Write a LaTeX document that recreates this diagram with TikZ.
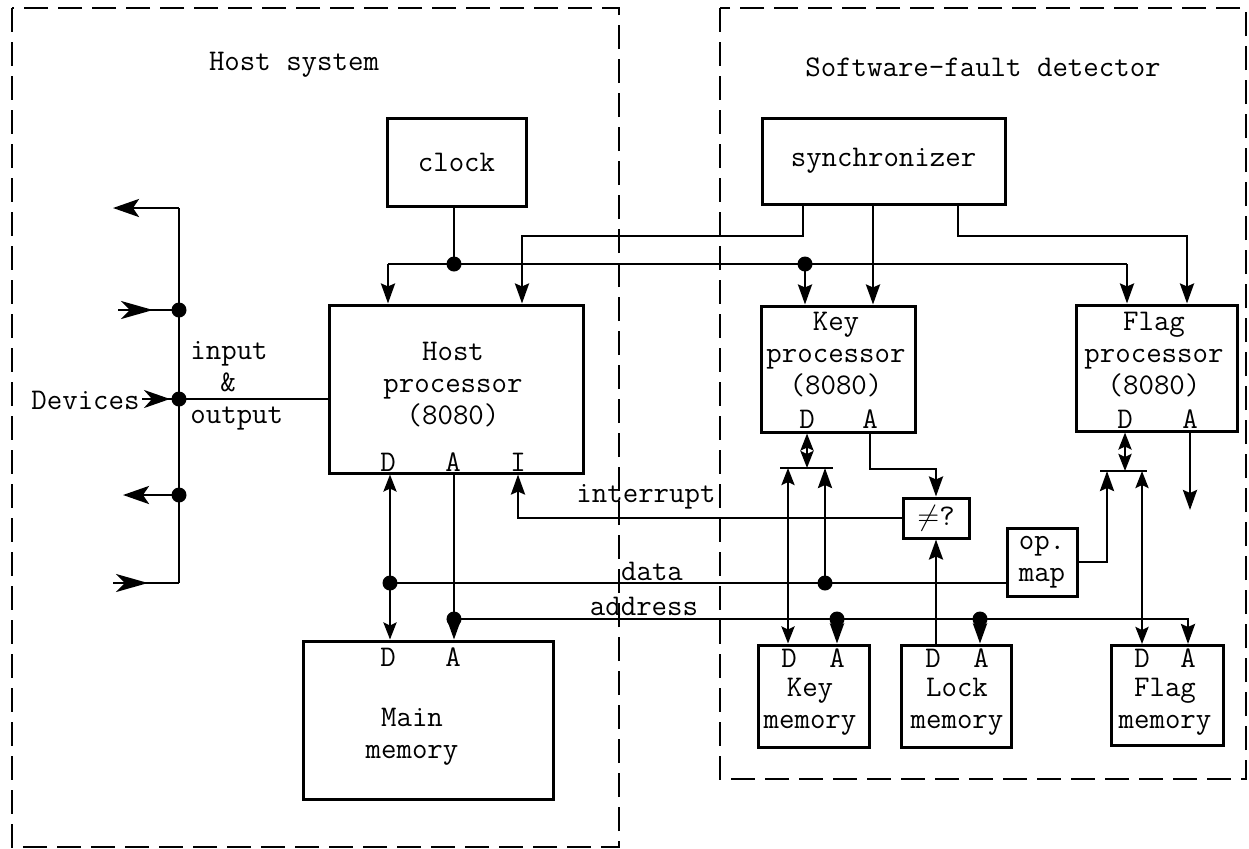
\documentclass[tikz,border=0pt]{standalone}
\usetikzlibrary{arrows.meta,calc}
\tikzset{
  box/.style={draw, line width=1.5pt},
  lbl/.style={align=center},
  wire/.style={line width=1.4pt},
  arr/.style={wire,-{Stealth[length=10pt,width=7pt,inset=1.5pt]}},
  darr/.style={wire,{Stealth[length=8.5pt,width=6.5pt,inset=1.5pt]}-{Stealth[length=8.5pt,width=6.5pt,inset=1.5pt]}},
  devin/.style={wire,-{Stealth[length=16pt,width=9pt,inset=4.5pt]}},
  devinshort/.style={wire,-{Stealth[length=13pt,width=9pt,inset=4pt]}},
  devout/.style={wire,-{Stealth[length=13pt,width=9pt,inset=3pt]}},
  frame/.style={line width=0.9pt, dash pattern=on 12pt off 5pt},
  dot/.style={circle, fill, minimum size=7.5pt, inner sep=0pt}
}
\begin{document}
\begin{tikzpicture}[x=0.5pt,y=-0.5pt,
  every node/.style={font=\ttfamily\fontsize{15pt}{16pt}\selectfont, inner sep=0pt}]
\useasboundingbox (0,0) rectangle (1249,848);

% subsystem frames
\draw[frame] (12,8) rectangle (619,847);
\draw[frame] (720,8) rectangle (1246,779);
\node (thost) at (294,65) {Host system};
\node (tsfd) at (983,67) {Software-fault detector};

% blocks
\node[box, minimum width=69.5pt, minimum height=44pt] (clock) at (456.5,162) {clock};
\node[box, minimum width=121.5pt, minimum height=43pt] (sync) at (883.5,161) {synchronizer};
\node[box, minimum width=127pt, minimum height=84pt] (host) at (456,389) {};
\node[lbl] (hostT) at (453,385) {Host\\processor\\(8080)};
\node[box, minimum width=77pt, minimum height=63pt] (keyp) at (838,369) {};
\node[lbl] (keypT) at (836,355) {Key\\processor\\(8080)};
\node[box, minimum width=80.5pt, minimum height=63pt] (flagp) at (1156.5,368) {};
\node[lbl] (flagpT) at (1154,355) {Flag\\processor\\(8080)};
\node[box, minimum width=33pt, minimum height=20pt] (neq) at (936,518) {$\neq$?};
\node[box, lbl, minimum width=35pt, minimum height=34pt] (opmap) at (1042,562) {op.\\map};
\node[box, minimum width=125pt, minimum height=79pt] (mainm) at (428,720) {};
\node[lbl] (mainmT) at (412,737) {Main\\memory};
\node[box, minimum width=55.5pt, minimum height=51pt] (keym) at (813.5,696) {};
\node[lbl] (keymT) at (810,707) {Key\\memory};
\node[box, minimum width=55pt, minimum height=51pt] (lockm) at (956,696) {};
\node[lbl] (lockmT) at (957,707) {Lock\\memory};
\node[box, minimum width=56pt, minimum height=50pt] (flagm) at (1167,695.5) {};
\node[lbl] (flagmT) at (1165,707) {Flag\\memory};

% port letters
\node[anchor=base] (hD) at (388,471) {D};
\node[anchor=base] (hA) at (453,471) {A};
\node[anchor=base] (hI) at (518,471) {I};
\node[anchor=base] (mD) at (388,666) {D};
\node[anchor=base] (mA) at (453,666) {A};
\node[anchor=base] (kpD) at (807,428) {D};
\node[anchor=base] (kpA) at (870,428) {A};
\node[anchor=base] (fpD) at (1125,428) {D};
\node[anchor=base] (fpA) at (1190,428) {A};
\node[anchor=base] (kmD) at (789,667) {D};
\node[anchor=base] (kmA) at (837,667) {A};
\node[anchor=base] (lmD) at (933,667) {D};
\node[anchor=base] (lmA) at (981,667) {A};
\node[anchor=base] (fmD) at (1142,667) {D};
\node[anchor=base] (fmA) at (1188,667) {A};

% device bus
\node[anchor=east] (dev) at (140,400) {Devices};
\node[anchor=west, align=left] (tio) at (190,386) {input\\\hspace*{15pt}\&\\output};
\coordinate (bt) at (179,208);
\coordinate (o1) at (113,208);
\node[dot] (j1) at (179,310) {};
\coordinate (i1) at (118,310);
\coordinate (i1h) at (153,310);
\node[dot] (j0) at (179,399) {};
\coordinate (i0) at (142,399);
\coordinate (i0h) at (170,399);
\node[dot] (j2) at (179,495) {};
\coordinate (o2) at (123,495);
\coordinate (bb) at (179,583);
\coordinate (i2) at (113,583);
\coordinate (i2h) at (148,583);
\draw[wire] (bt) -- (bb);
\draw[devout] (bt) -- (o1);
\draw[wire] (i1) -- (j1.center);
\draw[devin] (i1) -- (i1h);
\draw[wire] (i0) -- (j0.center);
\draw[devinshort] (i0) -- (i0h);
\draw[devout] (j2.center) -- (o2);
\draw[wire] (i2) -- (bb);
\draw[devin] (i2) -- (i2h);
\draw[wire] (j0.center) -- (j0.center -| host.west);

% clock distribution
\node[dot] (cj) at (454,264) {};
\node[dot] (kj) at (805,264) {};
\coordinate (h1) at (388,264);
\coordinate (f1) at (1127,264);
\draw[wire] (cj.center |- clock.south) -- (cj.center);
\draw[wire] (h1) -- (f1);
\draw[arr] (h1) -- (h1 |- host.north);
\draw[arr] (kj.center) -- (kj.center |- keyp.north);
\draw[arr] (f1) -- (f1 |- flagp.north);

% synchronizer outputs
\coordinate (s1) at (803,236);
\coordinate (h2) at (522,236);
\draw[arr] (s1 |- sync.south) -- (s1) -- (h2) -- (h2 |- host.north);
\coordinate (s2) at (873,236);
\draw[arr] (s2 |- sync.south) -- (s2 |- keyp.north);
\coordinate (s3) at (958,236);
\coordinate (f2) at (1187,236);
\draw[arr] (s3 |- sync.south) -- (s3) -- (f2) -- (f2 |- flagp.north);

% host data and address buses
\node[dot] (dj) at (390,583) {};
\node[dot] (aj) at (454,619) {};
\node[dot] (kdj) at (825,583) {};
\node[dot] (kaj) at (837,619) {};
\node[dot] (laj) at (980,619) {};
\coordinate (fa) at (1188,619);
\draw[darr] (dj.center |- host.south) -- (dj.center |- mainm.north);
\draw[wire] (aj.center |- host.south) -- (aj.center);
\draw[arr] (aj.center) -- (aj.center |- mainm.north);
\draw[wire] (dj.center) -- (dj.center -| opmap.west);
\draw[arr] (aj.center) -- (fa) -- (fa |- flagm.north);
\draw[arr] (kaj.center) -- (kaj.center |- keym.north);
\draw[arr] (laj.center) -- (laj.center |- lockm.north);
\node[anchor=base] (ldata) at (652,580) {data};
\node[anchor=base] (laddr) at (644,615) {address};

% key processor side
\coordinate (kbl) at (780,468);
\coordinate (kbr) at (833,468);
\draw[wire] (kbl) -- (kbr);
\coordinate (kpd) at (807,468);
\draw[darr] (kpd |- keyp.south) -- (kpd);
\coordinate (kmd) at (788,468);
\draw[darr] (kmd) -- (kmd |- keym.north);
\draw[arr] (kdj.center) -- (kdj.center |- kbl);
\coordinate (ka1) at (870,469);
\draw[arr] (ka1 |- keyp.south) -- (ka1) -- (ka1 -| neq.north) -- (neq.north);
\coordinate (ir) at (518,518);
\draw[arr] (neq.west) -- (ir) -- (ir |- host.south);
\node (lint) at (646,497) {interrupt};
\draw[arr] (lockm.north -| neq.south) -- (neq.south);

% flag processor side
\coordinate (fbl) at (1100,471);
\coordinate (fbr) at (1147,471);
\draw[wire] (fbl) -- (fbr);
\coordinate (fpd) at (1125,471);
\draw[darr] (fpd |- flagp.south) -- (fpd);
\coordinate (fmd) at (1142,471);
\draw[darr] (fmd) -- (fmd |- flagm.north);
\coordinate (om) at (1107,562);
\draw[arr] (opmap.east) -- (om) -- (om |- fbl);
\coordinate (fpa) at (1190,510);
\draw[arr] (fpa |- flagp.south) -- (fpa);
\end{tikzpicture}
\end{document}
